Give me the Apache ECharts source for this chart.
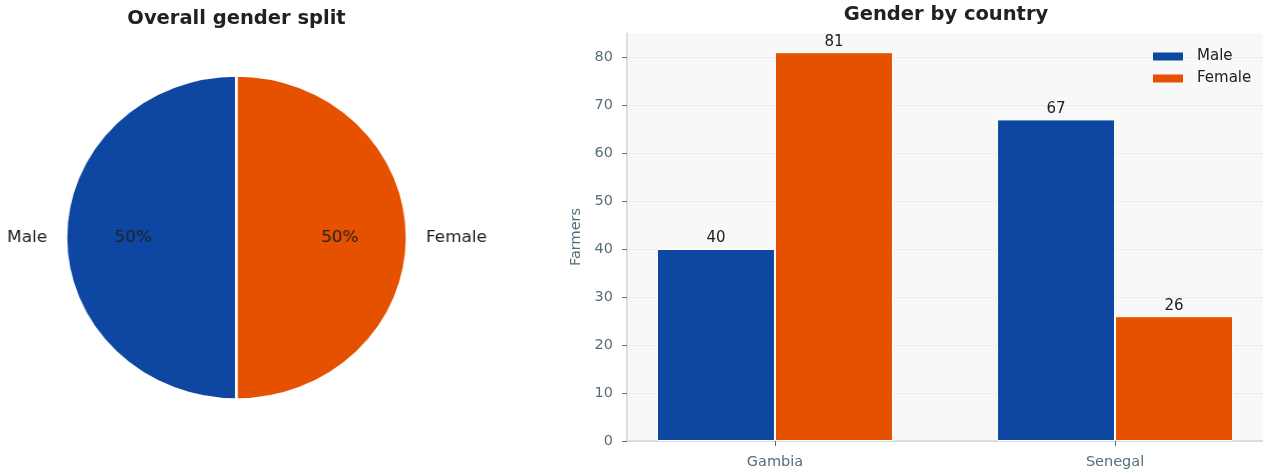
<!DOCTYPE html>
<html>
<head>
<meta charset="utf-8">
<script src="https://cdn.jsdelivr.net/npm/echarts@6/dist/echarts.min.js"></script>
<style>
  html, body { margin: 0; padding: 0; background: #ffffff; }
  #wrap { position: relative; width: 1263px; height: 472px; overflow: hidden; }
  #base { position: absolute; left: 0; top: 0; width: 1263px; height: 472px; }
  #pie { position: absolute; left: 0; top: 0; width: 560px; height: 472px;
         transform-origin: 236.5px 237.5px; transform: scaleX(1.0526); }
</style>
</head>
<body>
<div id="wrap">
  <div id="base"></div>
  <div id="pie"></div>
</div>
<script>
// Farmers per country, split by gender
const countries = ['Gambia', 'Senegal'];
const maleCounts = [40, 67];
const femaleCounts = [81, 26];
const genders = ['Male', 'Female'];
const yTicks = [0, 10, 20, 30, 40, 50, 60, 70, 80];

const MALE_COLOR = '#0d47a1';
const FEMALE_COLOR = '#e65100';
const FONT = 'DejaVu Sans';
const AXIS_TEXT = '#546e7a';
const SPINE = '#cfd8dc';

const sum = a => a.reduce((s, v) => s + v, 0);
const totals = [sum(maleCounts), sum(femaleCounts)];

// Bar chart (right) plus both panel titles
const base = echarts.init(document.getElementById('base'), null, { renderer: 'canvas' });
base.setOption({
  animation: false,
  textStyle: { fontFamily: FONT },
  title: [
    { text: 'Overall gender split', left: 236.5, top: 9, textAlign: 'center', padding: 0,
      textStyle: { fontFamily: FONT, fontSize: 19.5, fontWeight: 'bold', color: '#212121' } },
    { text: 'Gender by country', left: 946, top: 5, textAlign: 'center', padding: 0,
      textStyle: { fontFamily: FONT, fontSize: 19.5, fontWeight: 'bold', color: '#212121' } }
  ],
  legend: {
    data: genders,
    orient: 'vertical',
    align: 'left',
    left: 1153, top: 49,
    padding: 0,
    icon: 'rect',
    itemWidth: 30, itemHeight: 8,
    itemGap: 7,
    itemStyle: { borderWidth: 0 },
    textStyle: { fontFamily: FONT, fontSize: 15, color: '#212121', padding: [0, 0, 0, 9] }
  },
  grid: {
    left: 627, right: 0, top: 33, bottom: 31,
    show: true, backgroundColor: '#f8f8f8', borderWidth: 0
  },
  xAxis: {
    type: 'value',
    min: -0.435, max: 1.435,
    axisLine: { show: true, onZero: false, lineStyle: { color: SPINE, width: 1.5 } },
    axisTick: { show: true, customValues: [0, 1], length: 5, lineStyle: { color: AXIS_TEXT } },
    axisLabel: {
      customValues: [0, 1],
      formatter: v => countries[Math.round(v)],
      fontFamily: FONT, fontSize: 14.5, color: AXIS_TEXT, margin: 14
    },
    splitLine: { show: false }
  },
  yAxis: {
    type: 'value',
    min: 0, max: 85,
    name: 'Farmers',
    nameLocation: 'middle',
    nameRotate: 90,
    nameGap: 40,
    nameTextStyle: { fontFamily: FONT, fontSize: 14.5, color: AXIS_TEXT },
    axisLine: { show: true, onZero: false, lineStyle: { color: SPINE, width: 1.5 } },
    axisTick: { show: true, customValues: yTicks, length: 5, lineStyle: { color: AXIS_TEXT } },
    axisLabel: { customValues: yTicks, fontFamily: FONT, fontSize: 14.5, color: AXIS_TEXT, margin: 14 },
    splitLine: { show: true, lineStyle: { color: '#ececec', width: 1 } }
  },
  series: [
    {
      name: 'Male', type: 'bar',
      data: maleCounts.map((v, i) => [i, v]),
      barWidth: 118, barGap: '0%',
      itemStyle: { color: MALE_COLOR, borderColor: '#ffffff', borderWidth: 1 },
      label: { show: true, position: 'top', distance: 3, fontFamily: FONT, fontSize: 15, color: '#212121',
               formatter: p => p.value[1] }
    },
    {
      name: 'Female', type: 'bar',
      data: femaleCounts.map((v, i) => [i, v]),
      barWidth: 118, barGap: '0%',
      itemStyle: { color: FEMALE_COLOR, borderColor: '#ffffff', borderWidth: 1 },
      label: { show: true, position: 'top', distance: 3, fontFamily: FONT, fontSize: 15, color: '#212121',
               formatter: p => p.value[1] }
    }
  ]
});

// Overall split pie (left); the container is stretched slightly wider than tall
const pie = echarts.init(document.getElementById('pie'), null, { renderer: 'canvas' });
const pieData = genders.map((g, i) => ({ name: g, value: totals[i] }));
const PIE_R = 162;
pie.setOption({
  animation: false,
  series: [
    {
      type: 'pie',
      center: [236.5, 237.5],
      radius: [0, PIE_R],
      startAngle: 90,
      clockwise: false,
      silent: true,
      data: pieData.map((d, i) => ({
        ...d, itemStyle: { color: i === 0 ? MALE_COLOR : FEMALE_COLOR }
      })),
      itemStyle: { borderColor: '#ffffff', borderWidth: 2.5 },
      label: {
        show: true, position: 'outside', alignTo: 'none', overflow: 'none',
        formatter: '{b}', fontFamily: FONT, fontSize: 16, color: '#212121',
        distanceToLabelLine: 5
      },
      labelLine: { show: false, length: 8, length2: 5 },
      emphasis: { disabled: true }
    },
    {
      // percentage labels sit at about 0.6 of the pie radius
      type: 'pie',
      center: [236.5, 237.5],
      radius: [0, PIE_R * 1.175],
      startAngle: 90,
      clockwise: false,
      silent: true,
      data: pieData,
      itemStyle: { color: 'rgba(0,0,0,0)', borderWidth: 0 },
      label: {
        show: true, position: 'inner',
        formatter: p => Math.round(p.percent) + '%',
        fontFamily: FONT, fontSize: 16, color: '#212121'
      },
      labelLine: { show: false },
      emphasis: { disabled: true }
    }
  ]
});
</script>
</body>
</html>
